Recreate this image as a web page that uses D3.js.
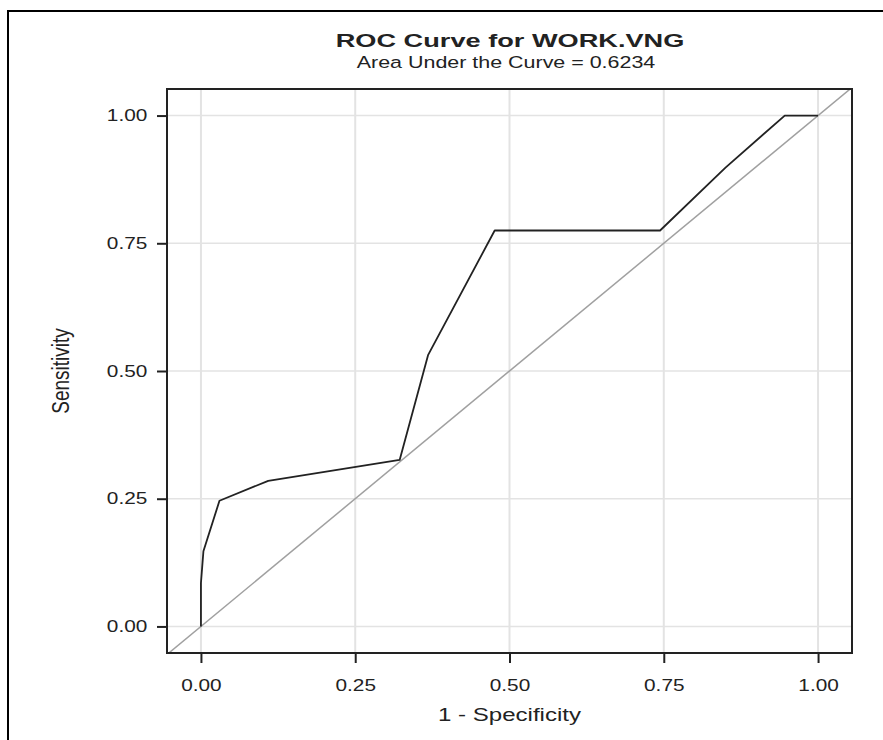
<!DOCTYPE html>
<html>
<head>
<meta charset="utf-8">
<script src="https://cdn.jsdelivr.net/npm/d3@7"></script>
<style>
	body { margin: 0; background: #fff; }
	text { font-family: Arial, "Liberation Sans", sans-serif; fill: #222; }
</style>
</head>
<body>
<div id="graph"></div>
<script>
// ROC points (1 - specificity, sensitivity)
var fpr = [0, 0, 0.004, 0.030, 0.109, 0.322, 0.368, 0.476, 0.744, 0.850, 0.946, 1.0];
var tpr = [0, 0.085, 0.147, 0.246, 0.285, 0.326, 0.531, 0.775, 0.775, 0.898, 1.0, 1.0];
var tickValues = [0, 0.25, 0.5, 0.75, 1];
var titleText = "ROC Curve for WORK.VNG";
var subtitleText = "Area Under the Curve = 0.6234";
var xLabel = "1 - Specificity";
var yLabel = "Sensitivity";

var w = 883, h = 740;
var plotL = 167, plotR = 852, plotT = 89, plotB = 653;
var sx = 1.3; // the picture is stretched sideways, so is its text

var xScale = d3.scaleLinear()
	.domain([-0.055, 1.055])
	.range([plotL, plotR]);
var yScale = d3.scaleLinear()
	.domain([-0.052, 1.052])
	.range([plotB, plotT]);

var svg = d3.select("#graph")
	.append("svg")
	.attr("width", w)
	.attr("height", h);

// outer frame
svg.append("rect")
	.attr("x", 8)
	.attr("y", 11)
	.attr("width", w + 10)
	.attr("height", h + 10)
	.attr("fill", "none")
	.attr("stroke", "#000")
	.attr("stroke-width", 2);

function stretchedText(x, y, size, str, k) {
	return svg.append("text")
		.attr("transform", "translate(" + x + "," + y + ") scale(" + (k || sx) + ",1)")
		.attr("text-anchor", "middle")
		.style("font-size", size + "px")
		.text(str);
}

stretchedText(510, 47, 19, titleText, 1.43).style("font-weight", "bold");
stretchedText(506, 68, 16.5, subtitleText);

svg.append("defs").append("clipPath")
	.attr("id", "clip")
	.append("rect")
	.attr("x", plotL)
	.attr("y", plotT)
	.attr("width", plotR - plotL)
	.attr("height", plotB - plotT);

// grid
var grid = svg.append("g").attr("id", "grid");
grid.selectAll("line.vx")
	.data(tickValues)
	.enter().append("line")
	.attr("class", "vx")
	.attr("x1", function (d) { return xScale(d); })
	.attr("x2", function (d) { return xScale(d); })
	.attr("y1", plotT)
	.attr("y2", plotB)
	.attr("stroke", "#e3e3e3")
	.attr("stroke-width", 2);
grid.selectAll("line.hy")
	.data(tickValues)
	.enter().append("line")
	.attr("class", "hy")
	.attr("y1", function (d) { return yScale(d); })
	.attr("y2", function (d) { return yScale(d); })
	.attr("x1", plotL)
	.attr("x2", plotR)
	.attr("stroke", "#e3e3e3")
	.attr("stroke-width", 1.5);

// chance diagonal
svg.append("line")
	.attr("clip-path", "url(#clip)")
	.attr("x1", xScale(-0.1))
	.attr("y1", yScale(-0.1))
	.attr("x2", xScale(1.1))
	.attr("y2", yScale(1.1))
	.attr("stroke", "#a0a0a0")
	.attr("stroke-width", 1.5);

// ROC curve
var points = d3.range(fpr.length).map(function (i) {
	return {x: fpr[i], y: tpr[i]};
});
var line = d3.line()
	.x(function (d) { return xScale(d.x); })
	.y(function (d) { return yScale(d.y); });

svg.append("path")
	.datum(points)
	.attr("fill", "none")
	.attr("stroke", "#222")
	.attr("stroke-width", 1.8)
	.attr("stroke-linejoin", "round")
	.attr("d", line);

// axes
var xAxis = d3.axisBottom(xScale)
	.tickValues(tickValues)
	.tickFormat(d3.format(".2f"))
	.tickSize(10)
	.tickPadding(17)
	.tickSizeOuter(0);
var yAxis = d3.axisLeft(yScale)
	.tickValues(tickValues)
	.tickFormat(d3.format(".2f"))
	.tickSize(10)
	.tickPadding(9)
	.tickSizeOuter(0);

var gx = svg.append("g")
	.attr("transform", "translate(0," + plotB + ")")
	.call(xAxis);
var gy = svg.append("g")
	.attr("transform", "translate(" + plotL + ",0)")
	.call(yAxis);
[gx, gy].forEach(function (g) {
	g.select(".domain").remove();
	g.selectAll(".tick line").attr("stroke", "#222").attr("stroke-width", 2);
	g.selectAll(".tick text")
		.style("font-size", "16px")
		.style("font-family", "Arial, 'Liberation Sans', sans-serif")
		.attr("fill", "#222")
		.attr("transform", "scale(" + sx + ",1)");
});
gy.selectAll(".tick text").attr("x", -19.7 / sx);

// plot frame
svg.append("rect")
	.attr("x", plotL)
	.attr("y", plotT)
	.attr("width", plotR - plotL)
	.attr("height", plotB - plotT)
	.attr("fill", "none")
	.attr("stroke", "#222")
	.attr("stroke-width", 2);

stretchedText((plotL + plotR) / 2, 721, 18.5, xLabel);

svg.append("text")
	.attr("transform", "translate(69," + (plotT + plotB) / 2 + ") scale(" + sx + ",1) rotate(-90)")
	.attr("text-anchor", "middle")
	.style("font-size", "19px")
	.text(yLabel);
</script>
</body>
</html>
